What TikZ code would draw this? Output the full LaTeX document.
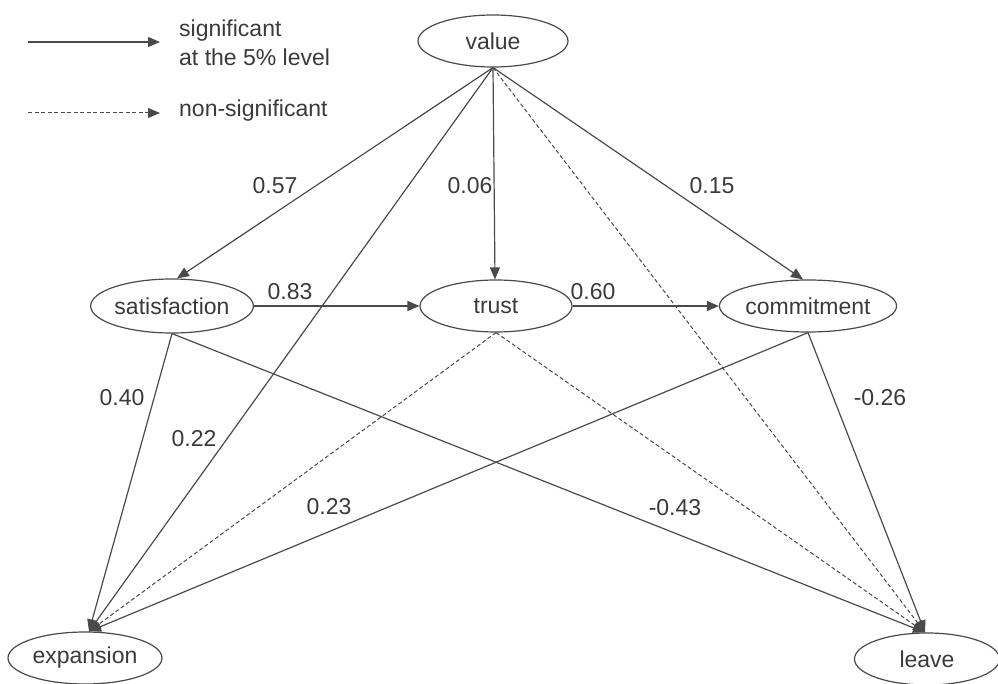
\documentclass[tikz,border=0pt]{standalone}
\usepackage{fontspec}
\setmainfont{Liberation Sans}
\usetikzlibrary{shapes.geometric,arrows.meta}
\definecolor{ln}{HTML}{4A4A4A}
\definecolor{tx}{HTML}{3A3A3A}
\begin{document}
\begin{tikzpicture}[x=1pt,y=-1pt,
  font=\fontsize{23}{29}\selectfont, text=tx,
  var/.style={ellipse, draw=ln, line width=1.2pt, minimum width=150pt, minimum height=52pt, inner sep=0pt},
  lab/.style={inner sep=0pt},
  sig/.style={draw=ln, line width=1.2pt, -{Triangle[length=12pt,width=10pt]}},
  nsig/.style={draw=ln, line width=1pt, dash pattern=on 4pt off 2.5pt, -{Triangle[length=12pt,width=10pt]}}]
\useasboundingbox (0,0) rectangle (998,684);
% legend
\coordinate (l1a) at (28,42);
\coordinate (l1b) at (160,42);
\coordinate (l2a) at (28,113);
\coordinate (l2b) at (160,113);
\draw[sig] (l1a) -- (l1b);
\draw[nsig] (l2a) -- (l2b);
\node[lab, anchor=west, align=left] (leg1) at (179,43) {significant\\at the 5\% level};
\node[lab, anchor=west] (leg2) at (179,111) {non-significant};
% variables
\node[var] (val) at (493,41) {value};
\node[var, minimum width=151pt, minimum height=54pt] (sat) at (172,306) {satisfaction};
\node[var, minimum width=152pt] (tru) at (496,306) {trust};
\node[var] (com) at (808,306) {commitment};
\node[var, minimum width=154pt] (exp) at (85,658) {expansion};
\node[var, minimum width=145pt] (lea) at (927,659) {leave};
% edges
\draw[sig] (val.south) -- ([xshift=5pt]sat.north);
\draw[sig] (val.south) -- ([xshift=-1pt]tru.north);
\draw[sig] (val.south) -- ([xshift=-5pt]com.north);
\draw[sig] (val.south) -- ([xshift=4pt]exp.north);
\draw[nsig] (val.south) -- ([xshift=-2pt]lea.north);
\draw[sig] (sat.east) -- (tru.west);
\draw[sig] (tru.east) -- (com.west);
\draw[sig] (sat.south) -- ([xshift=4pt]exp.north);
\draw[sig] (sat.south) -- ([xshift=-2pt]lea.north);
\draw[nsig] (tru.south) -- ([xshift=4pt]exp.north);
\draw[nsig] (tru.south) -- ([xshift=-2pt]lea.north);
\draw[sig] (com.south) -- ([xshift=4pt]exp.north);
\draw[sig] (com.south) -- ([xshift=-2pt]lea.north);
% labels
\node[lab] (e1) at (275,186) {0.57};
\node[lab] (e2) at (470,186) {0.06};
\node[lab] (e3) at (712,186) {0.15};
\node[lab] (e4) at (290,292) {0.83};
\node[lab] (e5) at (593,292) {0.60};
\node[lab] (e6) at (122,398) {0.40};
\node[lab] (e7) at (194,439) {0.22};
\node[lab] (e8) at (329,507) {0.23};
\node[lab] (e9) at (675,508) {-0.43};
\node[lab] (e10) at (880,398) {-0.26};
\end{tikzpicture}
\end{document}
